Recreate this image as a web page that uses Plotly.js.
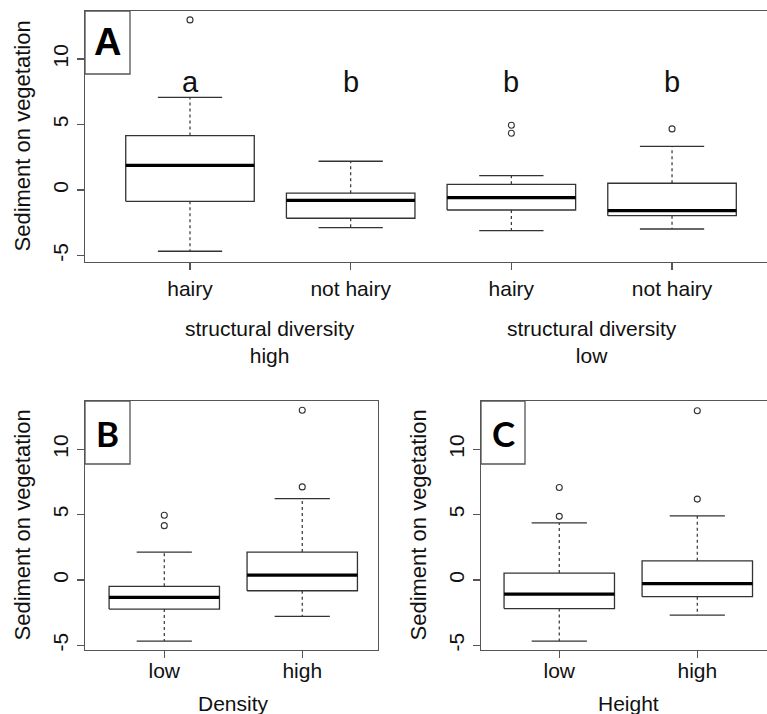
<!DOCTYPE html>
<html>
<head>
<meta charset="utf-8">
<script src="https://cdn.plot.ly/plotly-3.0.1.min.js"></script>
<style>html,body{margin:0;padding:0;background:#fff;}#chart{width:767px;height:714px;}</style>
</head>
<body>
<div id="chart"></div>
<script>
// ---------- Data ----------
// Panel A: vegetation hairiness x structural diversity
const aTickLabels = ['hairy', 'not hairy', 'hairy', 'not hairy'];
const aGroupLabels = ['structural diversity<br>high', 'structural diversity<br>low'];
const aSigLetters = ['a', 'b', 'b', 'b'];
const aLower  = [-4.68, -2.88, -3.10, -2.98];
const aQ1     = [-0.87, -2.16, -1.53, -1.96];
const aMedian = [ 1.88, -0.79, -0.59, -1.58];
const aQ3     = [ 4.15, -0.25,  0.43,  0.51];
const aUpper  = [ 7.07,  2.19,  1.09,  3.33];
const aOutliers = [[12.98], [], [4.94, 4.33], [4.66]];

// Panel B: Density
const bTickLabels = ['low', 'high'];
const bLower  = [-4.67, -2.78];
const bQ1     = [-2.22, -0.82];
const bMedian = [-1.33,  0.38];
const bQ3     = [-0.48,  2.14];
const bUpper  = [ 2.14,  6.22];
const bOutliers = [[4.95, 4.16], [12.98, 7.12]];

// Panel C: Height
const cTickLabels = ['low', 'high'];
const cLower  = [-4.67, -2.69];
const cQ1     = [-2.18, -1.27];
const cMedian = [-1.07, -0.28];
const cQ3     = [ 0.53,  1.47];
const cUpper  = [ 4.37,  4.90];
const cOutliers = [[7.08, 4.87], [12.94, 6.19]];

const yTicks = [-5, 0, 5, 10];
const yTitle = 'Sediment on vegetation';

// ---------- Styling ----------
const W = 767, H = 714;
const FONT = 'Liberation Sans, Arial, sans-serif';
const INK = '#333333';
const FRAME = '#555555';
const HALF = 0.4, CAP = 0.2;

function boxTraces(xa, ya, lower, q1, med, q3, upper, outliers) {
  const bx = [], by = [], mx = [], my = [], wx = [], wy = [], cx = [], cy = [], ox = [], oy = [];
  for (let i = 0; i < q1.length; i++) {
    const c = i + 1;
    bx.push(c - HALF, c + HALF, c + HALF, c - HALF, c - HALF, null);
    by.push(q1[i], q1[i], q3[i], q3[i], q1[i], null);
    mx.push(c - HALF, c + HALF, null); my.push(med[i], med[i], null);
    wx.push(c, c, null, c, c, null); wy.push(q3[i], upper[i], null, q1[i], lower[i], null);
    cx.push(c - CAP, c + CAP, null, c - CAP, c + CAP, null);
    cy.push(upper[i], upper[i], null, lower[i], lower[i], null);
    outliers[i].forEach(v => { ox.push(c); oy.push(v); });
  }
  const common = {xaxis: xa, yaxis: ya, mode: 'lines', hoverinfo: 'skip', showlegend: false, type: 'scatter'};
  return [
    Object.assign({}, common, {x: wx, y: wy, line: {color: INK, width: 1.2, dash: '3px,3px'}}),
    Object.assign({}, common, {x: cx, y: cy, line: {color: INK, width: 1.3}}),
    Object.assign({}, common, {x: bx, y: by, line: {color: INK, width: 1.3}}),
    Object.assign({}, common, {x: mx, y: my, line: {color: '#000', width: 3.2}}),
    {x: ox, y: oy, xaxis: xa, yaxis: ya, type: 'scatter', mode: 'markers', hoverinfo: 'skip', showlegend: false,
     marker: {symbol: 'circle-open', size: 6, color: INK, line: {width: 1.1, color: INK}}}
  ];
}

const data = [].concat(
  boxTraces('x', 'y', aLower, aQ1, aMedian, aQ3, aUpper, aOutliers),
  boxTraces('x2', 'y2', bLower, bQ1, bMedian, bQ3, bUpper, bOutliers),
  boxTraces('x3', 'y3', cLower, cQ1, cMedian, cQ3, cUpper, cOutliers)
);

const px = v => v / W;
const py = v => 1 - v / H;

function xAxis(dom, range, labels, anchor, standoff) {
  return {domain: dom, range: range, anchor: anchor, tickmode: 'array', tickvals: labels.map((_, i) => i + 1), ticktext: labels,
    ticks: 'outside', ticklen: 7, tickwidth: 1.2, tickcolor: FRAME, showline: true, mirror: true,
    linecolor: FRAME, linewidth: 1.3, showgrid: false, zeroline: false, fixedrange: true,
    ticklabelstandoff: standoff,
    tickfont: {family: FONT, size: 21, color: '#111'}};
}
function yAxis(dom, range, anchor, mirror) {
  return {domain: dom, range: range, anchor: anchor, tickmode: 'array', tickvals: yTicks, ticktext: yTicks.map(String),
    ticks: 'outside', ticklen: 7, tickwidth: 1.2, tickcolor: FRAME, showline: true, mirror: mirror,
    linecolor: FRAME, linewidth: 1.3, showgrid: false, zeroline: false, fixedrange: true, tickangle: -90,
    tickfont: {family: FONT, size: 21, color: '#111'}};
}

const annotations = [];
const shapes = [];

// significance letters
aSigLetters.forEach((t, i) => annotations.push({xref: 'x', yref: 'y', x: i + 1, y: 8.25, text: t, showarrow: false,
  xanchor: 'center', yanchor: 'middle', font: {family: FONT, size: 29, color: '#111'}}));
// group labels under panel A
aGroupLabels.forEach((t, i) => annotations.push({xref: 'x', yref: 'paper', x: 2 * i + 1.5, y: py(342), text: t,
  showarrow: false, xanchor: 'center', yanchor: 'middle', font: {family: FONT, size: 21, color: '#111'}}));

// y axis titles
[[22, 136.5], [22, 525.5], [418, 525.5]].forEach(p => annotations.push({xref: 'paper', yref: 'paper',
  x: px(p[0]), y: py(p[1]), text: yTitle, textangle: -90, showarrow: false, xanchor: 'center', yanchor: 'middle',
  font: {family: FONT, size: 22, color: '#111'}}));
// x axis titles
annotations.push({xref: 'x2', yref: 'paper', x: 1.5, y: py(703), text: 'Density', showarrow: false,
  xanchor: 'center', yanchor: 'middle', font: {family: FONT, size: 21, color: '#111'}});
annotations.push({xref: 'x3', yref: 'paper', x: 1.5, y: py(703), text: 'Height', showarrow: false,
  xanchor: 'center', yanchor: 'middle', font: {family: FONT, size: 21, color: '#111'}});

// panel label boxes
const panels = [
  {xr: 'x domain', yr: 'y domain', x1: 45 / 682, y0: 1 - 63 / 251, t: 'A', f: 'Liberation Sans Narrow, Liberation Sans, Arial, sans-serif', s: 38},
  {xr: 'x2 domain', yr: 'y2 domain', x1: 45 / 293, y0: 1 - 63 / 249, t: 'B', f: 'Lato, Open Sans, sans-serif', s: 35},
  {xr: 'x3 domain', yr: 'y3 domain', x1: 44 / 286, y0: 1 - 63 / 249, t: 'C', f: 'Lato, Open Sans, sans-serif', s: 35}
];
panels.forEach(p => {
  shapes.push({type: 'rect', xref: p.xr, yref: p.yr, x0: 0, x1: p.x1, y0: p.y0, y1: 1,
    line: {color: FRAME, width: 1.3}, fillcolor: 'rgba(0,0,0,0)', layer: 'above'});
  annotations.push({xref: p.xr, yref: p.yr, x: p.x1 / 2, y: (1 + p.y0) / 2, text: '<b>' + p.t + '</b>', showarrow: false,
    xanchor: 'center', yanchor: 'middle', font: {family: p.f, size: p.s, color: '#000'}});
});

const layout = {
  width: W, height: H, margin: {l: 0, r: 0, t: 0, b: 0}, paper_bgcolor: '#fff', plot_bgcolor: '#fff',
  showlegend: false,
  xaxis: xAxis([px(85), 1], [0.3465, 4.591], aTickLabels, 'y', 0),
  yaxis: yAxis([py(262), py(11)], [-5.50, 13.66], 'x', false),
  xaxis2: xAxis([px(85), px(378)], [0.4254, 2.549], bTickLabels, 'y2', -6),
  yaxis2: yAxis([py(650), py(401)], [-5.35, 13.69], 'x2', true),
  xaxis3: xAxis([px(481), 1], [0.433, 2.505], cTickLabels, 'y3', -6),
  yaxis3: yAxis([py(650), py(401)], [-5.35, 13.69], 'x3', false),
  annotations: annotations,
  shapes: shapes
};

Plotly.newPlot('chart', data, layout, {displayModeBar: false, staticPlot: true});
</script>
</body>
</html>
